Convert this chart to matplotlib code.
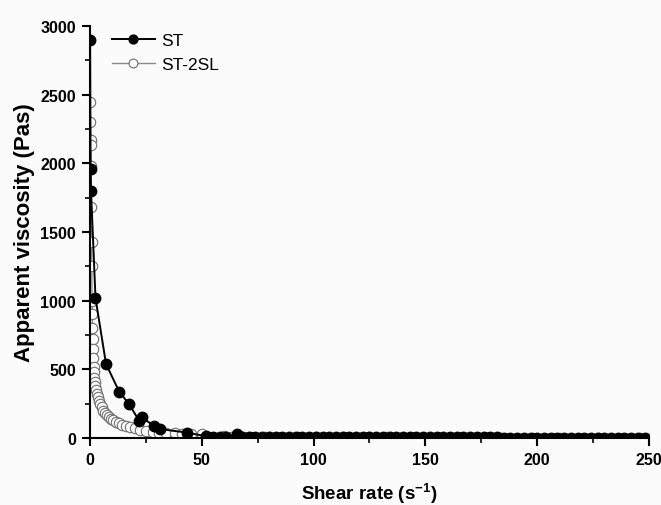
import matplotlib
matplotlib.use('Agg')
import matplotlib.pyplot as plt
from matplotlib.ticker import MultipleLocator

plt.rcParams['font.family'] = ['Liberation Sans', 'DejaVu Sans']
plt.rcParams['mathtext.fontset'] = 'custom'
plt.rcParams['mathtext.rm'] = 'Liberation Sans:bold'
plt.rcParams['mathtext.bf'] = 'Liberation Sans:bold'
plt.rcParams['mathtext.default'] = 'bf'

# ST (filled circles)
st_x = [0.1, 0.3, 0.5, 2.5, 7.2, 13.1, 17.5, 22.0, 23.1, 28.6, 31.3, 43.2, 52, 55, 58, 61, 65.6,
        68, 71, 74, 77, 80, 83, 86, 89, 92, 95, 98, 101, 104, 107, 110, 113, 116, 119,
        122, 125, 128, 131, 134, 137, 140, 143, 146, 149, 152, 155, 158, 161, 164,
        167, 170, 173, 176, 179, 182, 185, 188, 191, 194, 197, 200, 203, 206, 209,
        212, 215, 218, 221, 224, 227, 230, 233, 236, 239, 242, 245, 248]
st_y = [2900, 1960, 1800, 1020, 540, 337, 247, 126, 150, 90, 65, 40, 12, 10, 9, 8, 30,
        8, 7, 7, 7, 6, 6, 6, 6, 6, 6, 5, 5, 5, 5, 5, 5, 5, 5,
        5, 5, 4, 4, 4, 4, 4, 4, 4, 4, 4, 4, 4, 4, 4,
        4, 4, 4, 4, 4, 4, 3, 3, 3, 3, 3, 3, 3, 3, 3,
        3, 3, 3, 3, 3, 3, 3, 3, 3, 3, 3, 3, 3]

# ST-2SL (open circles)
sl_x = [0.15, 0.25, 0.35, 0.45, 0.55, 0.65, 0.75, 0.85, 0.95, 1.05, 1.15, 1.25, 1.35, 1.5,
        1.65, 1.8, 2.0, 2.2, 2.5, 2.8, 3.2, 3.6, 4.0, 4.6, 5.2, 6.0, 6.8, 7.6, 8.5, 9.5,
        10.5, 11.5, 13, 14.5, 16, 18, 20, 22.5, 25, 28, 31, 34, 38, 41, 45, 50,
        60, 63.5, 68.5, 71.6, 78.3, 80.5, 93, 101, 113, 125, 133, 144.5, 166, 171,
        184, 198, 210, 227, 246]
sl_y = [2450, 2300, 2170, 2130, 1980, 1680, 1430, 1250, 1000, 900, 800, 720, 650, 580,
        520, 480, 440, 410, 380, 350, 320, 295, 270, 245, 225, 200, 180, 165, 150, 138,
        128, 118, 108, 98, 90, 80, 70, 60, 50, 44, 40, 36, 33, 32, 30, 28,
        12, 10, 8, 7, 7, 6, 5, 5, 4, 4, 4, 3, 3, 3,
        3, 3, 3, 3, 3]

fig = plt.figure(figsize=(6.61, 5.06), dpi=100, facecolor='#fbfbfb')
ax = fig.add_axes([0.136, 0.1324, 0.846, 0.8142])
ax.set_facecolor('#fbfbfb')

ax.plot(sl_x, sl_y, '-o', color='#8c8c8c', lw=1.0, ms=7.5,
        mfc='white', mec='#6e6e6e', mew=0.8, label='ST-2SL', zorder=2)
ax.plot(st_x, st_y, '-o', color='black', lw=1.4, ms=7.5,
        mfc='black', mec='black', label='ST', zorder=3)

ax.set_xlim(0, 250)
ax.set_ylim(0, 3000)
ax.xaxis.set_major_locator(MultipleLocator(50))
ax.xaxis.set_minor_locator(MultipleLocator(25))
ax.yaxis.set_major_locator(MultipleLocator(500))
ax.yaxis.set_minor_locator(MultipleLocator(250))

for s in ['top', 'right']:
    ax.spines[s].set_visible(False)
for s in ['left', 'bottom']:
    ax.spines[s].set_linewidth(1.5)

ax.tick_params(which='major', direction='out', length=6, width=1.5, labelsize=11.5, pad=4)
ax.tick_params(which='minor', direction='out', length=3.5, width=1.2)
for lab in ax.get_xticklabels() + ax.get_yticklabels():
    lab.set_fontweight('bold')

ax.set_xlabel('Shear rate (s$^{-1}$)', fontsize=13.5, fontweight='bold', labelpad=10)
ax.set_ylabel('Apparent viscosity (Pas)', fontsize=16, fontweight='bold', labelpad=4)

handles, labels = ax.get_legend_handles_labels()
ax.legend(handles[::-1], labels[::-1], loc='upper left', bbox_to_anchor=(0.011, 1.022),
          frameon=False, fontsize=12.5, handlelength=2.5, handletextpad=0.35,
          labelspacing=0.55, markerscale=0.85)

fig.savefig('out.png', dpi=100, facecolor=fig.get_facecolor())
